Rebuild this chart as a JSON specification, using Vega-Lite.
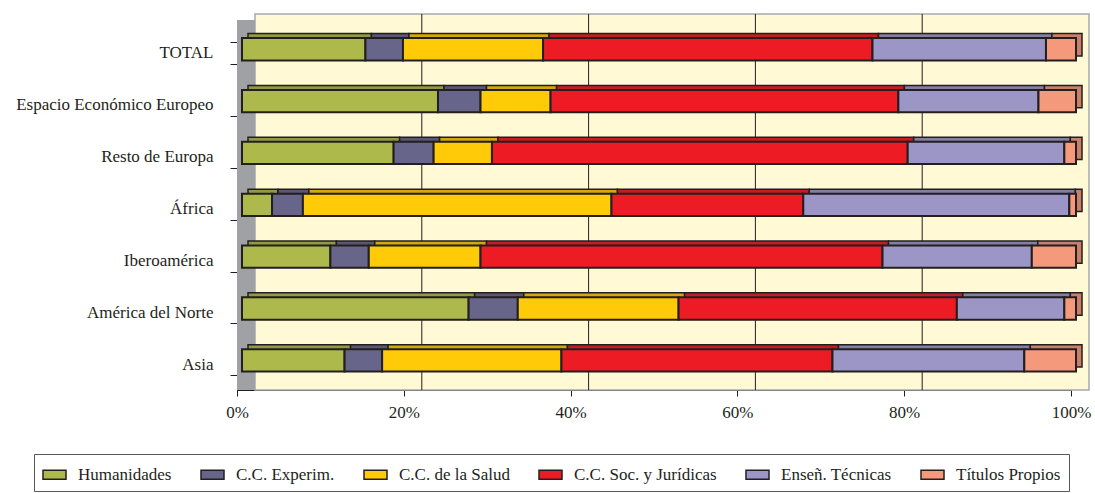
{
  "$schema": "https://vega.github.io/schema/vega-lite/v6.json",
  "width": 834,
  "height": 363,
  "autosize": {"type": "none"},
  "padding": {"left": 237, "top": 27, "right": 24, "bottom": 103},
  "background": "white",
  "config": {
    "view": {"stroke": null, "fill": "#FFF9D6"},
    "font": "Liberation Serif",
    "axis": {"labelFont": "Liberation Serif", "labelColor": "#231F20", "domainColor": "#231F20", "tickColor": "#231F20", "labelFontSize": 17, "grid": false}
  },
  "datasets": {
    "grid": [{"v": 0.2}, {"v": 0.4}, {"v": 0.6}, {"v": 0.8}],
    "cats": [
      {"categoria": "Humanidades", "orden": 1},
      {"categoria": "C.C. Experim.", "orden": 2},
      {"categoria": "C.C. de la Salud", "orden": 3},
      {"categoria": "C.C. Soc. y Jurídicas", "orden": 4},
      {"categoria": "Enseñ. Técnicas", "orden": 5},
      {"categoria": "Títulos Propios", "orden": 6}
    ],
    "main": [
      {"pais": "TOTAL", "categoria": "Humanidades", "pct": 14.8},
      {"pais": "TOTAL", "categoria": "C.C. Experim.", "pct": 4.5},
      {"pais": "TOTAL", "categoria": "C.C. de la Salud", "pct": 16.8},
      {"pais": "TOTAL", "categoria": "C.C. Soc. y Jurídicas", "pct": 39.5},
      {"pais": "TOTAL", "categoria": "Enseñ. Técnicas", "pct": 20.8},
      {"pais": "TOTAL", "categoria": "Títulos Propios", "pct": 3.6},
      {"pais": "Espacio Económico Europeo", "categoria": "Humanidades", "pct": 23.5},
      {"pais": "Espacio Económico Europeo", "categoria": "C.C. Experim.", "pct": 5.1},
      {"pais": "Espacio Económico Europeo", "categoria": "C.C. de la Salud", "pct": 8.4},
      {"pais": "Espacio Económico Europeo", "categoria": "C.C. Soc. y Jurídicas", "pct": 41.7},
      {"pais": "Espacio Económico Europeo", "categoria": "Enseñ. Técnicas", "pct": 16.8},
      {"pais": "Espacio Económico Europeo", "categoria": "Títulos Propios", "pct": 4.5},
      {"pais": "Resto de Europa", "categoria": "Humanidades", "pct": 18.2},
      {"pais": "Resto de Europa", "categoria": "C.C. Experim.", "pct": 4.8},
      {"pais": "Resto de Europa", "categoria": "C.C. de la Salud", "pct": 7.0},
      {"pais": "Resto de Europa", "categoria": "C.C. Soc. y Jurídicas", "pct": 49.9},
      {"pais": "Resto de Europa", "categoria": "Enseñ. Técnicas", "pct": 18.8},
      {"pais": "Resto de Europa", "categoria": "Títulos Propios", "pct": 1.4},
      {"pais": "África", "categoria": "Humanidades", "pct": 3.6},
      {"pais": "África", "categoria": "C.C. Experim.", "pct": 3.7},
      {"pais": "África", "categoria": "C.C. de la Salud", "pct": 37.0},
      {"pais": "África", "categoria": "C.C. Soc. y Jurídicas", "pct": 23.0},
      {"pais": "África", "categoria": "Enseñ. Técnicas", "pct": 31.9},
      {"pais": "África", "categoria": "Títulos Propios", "pct": 0.8},
      {"pais": "Iberoamérica", "categoria": "Humanidades", "pct": 10.6},
      {"pais": "Iberoamérica", "categoria": "C.C. Experim.", "pct": 4.6},
      {"pais": "Iberoamérica", "categoria": "C.C. de la Salud", "pct": 13.4},
      {"pais": "Iberoamérica", "categoria": "C.C. Soc. y Jurídicas", "pct": 48.2},
      {"pais": "Iberoamérica", "categoria": "Enseñ. Técnicas", "pct": 17.9},
      {"pais": "Iberoamérica", "categoria": "Títulos Propios", "pct": 5.3},
      {"pais": "América del Norte", "categoria": "Humanidades", "pct": 27.2},
      {"pais": "América del Norte", "categoria": "C.C. Experim.", "pct": 5.9},
      {"pais": "América del Norte", "categoria": "C.C. de la Salud", "pct": 19.3},
      {"pais": "América del Norte", "categoria": "C.C. Soc. y Jurídicas", "pct": 33.4},
      {"pais": "América del Norte", "categoria": "Enseñ. Técnicas", "pct": 12.9},
      {"pais": "América del Norte", "categoria": "Títulos Propios", "pct": 1.4},
      {"pais": "Asia", "categoria": "Humanidades", "pct": 12.3},
      {"pais": "Asia", "categoria": "C.C. Experim.", "pct": 4.5},
      {"pais": "Asia", "categoria": "C.C. de la Salud", "pct": 21.5},
      {"pais": "Asia", "categoria": "C.C. Soc. y Jurídicas", "pct": 32.5},
      {"pais": "Asia", "categoria": "Enseñ. Técnicas", "pct": 23.0},
      {"pais": "Asia", "categoria": "Títulos Propios", "pct": 6.2}
    ]
  },
  "layer": [
    {
      "data": {"values": [{}]},
      "mark": {"type": "rect", "fill": "#FFF9D6", "stroke": "#A7A9AC", "strokeWidth": 1.5, "xOffset": 18, "x2Offset": 18, "yOffset": -13, "y2Offset": -13},
      "encoding": {
        "x": {"datum": 0, "type": "quantitative", "axis": {"title": null}},
        "x2": {"datum": 1}
      }
    },
    {
      "data": {"values": [{}]},
      "mark": {"type": "rect", "fill": "#A0A1A4", "xOffset": 0, "x2Offset": 18, "yOffset": -7, "y2Offset": -6},
      "encoding": {
        "x": {"datum": 0, "type": "quantitative", "axis": {"title": null}},
        "x2": {"datum": 0}
      }
    },
    {
      "data": {"name": "grid"},
      "mark": {"type": "rule", "color": "#231F20", "strokeWidth": 1, "xOffset": 18, "x2Offset": 18, "yOffset": -13, "y2Offset": -13},
      "encoding": {
        "x": {"field": "v", "type": "quantitative", "axis": {"title": null}}
      }
    },
    {
      "data": {"name": "main"},
      "transform": [{"lookup": "categoria", "from": {"data": {"name": "cats"}, "key": "categoria", "fields": ["orden"]}}],
      "layer": [
        {
          "mark": {"type": "bar", "stroke": "#231F20", "strokeWidth": 1.5, "xOffset": 11, "x2Offset": 11, "yOffset": -8.2, "y2Offset": -8.2},
          "encoding": {
            "y": {"field": "pais", "type": "nominal", "sort": null, "axis": {"title": null}},
            "x": {"field": "pct", "type": "quantitative", "aggregate": "sum", "stack": "normalize", "axis": {"title": null}},
            "color": {"field": "categoria", "type": "nominal"},
            "order": {"field": "orden", "type": "quantitative", "sort": "ascending"}
          }
        },
        {
          "mark": {"type": "bar", "fill": "#231F20", "fillOpacity": 0.2, "strokeWidth": 0, "xOffset": 11, "x2Offset": 11, "yOffset": -8.2, "y2Offset": -8.2},
          "encoding": {
            "y": {"field": "pais", "type": "nominal", "sort": null, "axis": {"title": null}},
            "x": {"field": "pct", "type": "quantitative", "aggregate": "sum", "stack": "normalize", "axis": {"title": null}},
            "detail": {"field": "categoria", "type": "nominal"},
            "order": {"field": "orden", "type": "quantitative", "sort": "ascending"}
          }
        },
        {
          "mark": {"type": "bar", "stroke": "#231F20", "strokeWidth": 2, "xOffset": 5, "x2Offset": 5, "yOffset": -3.7, "y2Offset": -3.7},
          "encoding": {
            "y": {
              "field": "pais", "type": "nominal", "sort": null,
              "scale": {"paddingInner": 0.57, "paddingOuter": 0.285},
              "axis": {"title": null, "tickBand": "extent", "tickSize": 7, "labelPadding": 17, "domainWidth": 1, "labelLimit": 300}
            },
            "x": {
              "field": "pct", "type": "quantitative", "aggregate": "sum", "stack": "normalize",
              "axis": {"title": null, "values": [0, 0.2, 0.4, 0.6, 0.8, 1], "format": ".0%", "tickSize": 6, "labelPadding": 8, "labelFlush": false}
            },
            "order": {"field": "orden", "type": "quantitative", "sort": "ascending"},
            "color": {
              "field": "categoria", "type": "nominal",
              "scale": {
                "domain": ["Humanidades", "C.C. Experim.", "C.C. de la Salud", "C.C. Soc. y Jurídicas", "Enseñ. Técnicas", "Títulos Propios"],
                "range": ["#ADB94B", "#68658A", "#FFCB08", "#ED1C24", "#9B96C6", "#F4997B"]
              },
              "legend": {
                "orient": "none", "legendX": -203, "legendY": 427, "direction": "horizontal", "columns": 6,
                "title": null, "padding": 8, "strokeColor": "#58595B", "fillColor": "white",
                "labelFont": "Liberation Serif", "labelFontSize": 17, "labelColor": "#231F20", "labelLimit": 300,
                "symbolType": "M-1,-0.4H1V0.4H-1Z", "symbolSize": 529, "symbolStrokeColor": "#231F20", "symbolStrokeWidth": 1.5, "symbolOpacity": 1,
                "labelOffset": 11, "columnPadding": 26
              }
            }
          }
        }
      ]
    }
  ]
}
